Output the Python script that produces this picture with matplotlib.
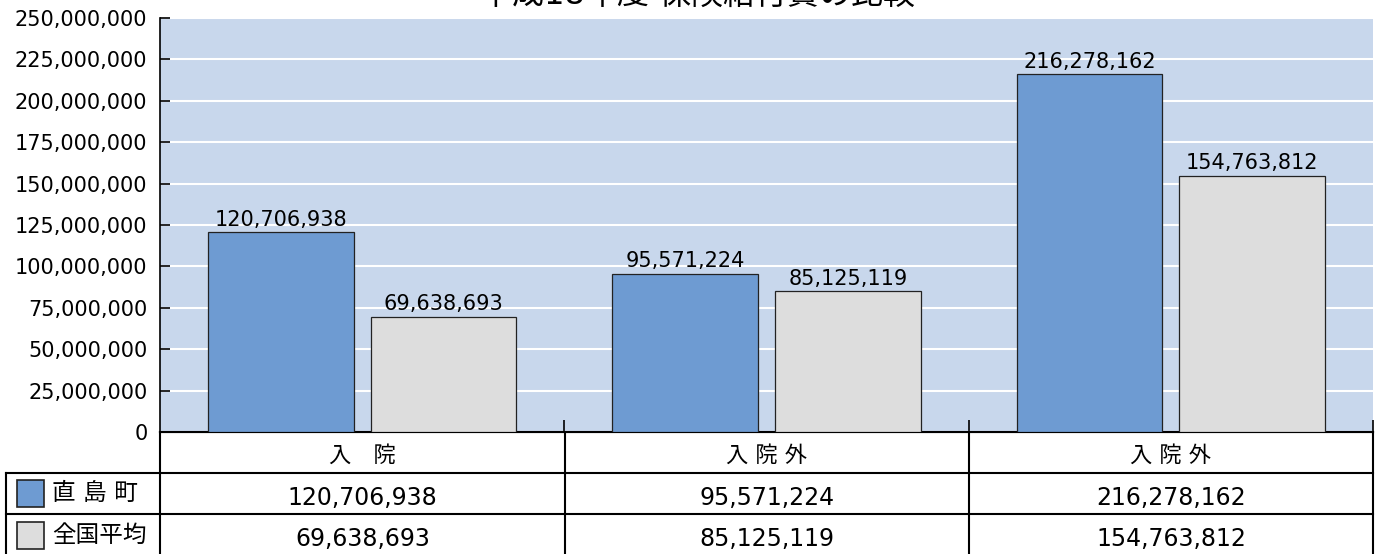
import matplotlib.pyplot as plt
import numpy as np

plt.rcParams['font.family'] = ['DejaVu Sans', 'Noto Sans CJK JP']

# data
categories = ['入\u3000院', '入 院 外', '入 院 外']
series_names = ['直 島 町', '全国平均']
naoshima = [120706938, 95571224, 216278162]
national = [69638693, 85125119, 154763812]
yticks = np.arange(0, 250000001, 25000000)

title = '平成18年度 保険給付費の比較'
blue = '#6E9BD2'
gray = '#DDDDDD'
bg = '#C8D7EC'

W, H = 1378, 554
fig = plt.figure(figsize=(W / 100, H / 100), dpi=100)

# pixel helpers (top-left origin)
def fx(px):
    return px / W

def fy(py):
    return 1 - py / H

# main bar axes
ax = fig.add_axes([fx(160), fy(432), fx(1373) - fx(160), fy(18) - fy(432)])
ax.set_facecolor(bg)
x = np.arange(len(categories))
w = 0.36
ax.bar(x - 0.201, naoshima, w, color=blue, edgecolor='#222222', linewidth=0.9, zorder=3)
ax.bar(x + 0.201, national, w, color=gray, edgecolor='#222222', linewidth=0.9, zorder=3)

for xi, v in zip(x - 0.201, naoshima):
    ax.annotate(f'{v:,}', (xi, v), xytext=(0, 4.5), textcoords='offset points',
                ha='center', va='baseline', fontsize=15, zorder=4)
for xi, v in zip(x + 0.201, national):
    ax.annotate(f'{v:,}', (xi, v), xytext=(0, 4.5), textcoords='offset points',
                ha='center', va='baseline', fontsize=15, zorder=4)

ax.set_xlim(-0.5, len(categories) - 0.5)
ax.set_ylim(0, 250000000)
ax.set_yticks(yticks)
ax.set_yticklabels([f'{t:,}' for t in yticks], fontsize=15)
ax.tick_params(axis='y', direction='in', length=7.5, width=1.2, pad=9)
ax.set_xticks(np.arange(len(categories)) + 0.5)
ax.set_xticklabels([])
ax.tick_params(axis='x', direction='in', length=8.5, width=1.2)
ax.grid(axis='y', color='white', linewidth=1.5, zorder=1)
ax.set_axisbelow(True)
for s in ['top', 'right']:
    ax.spines[s].set_visible(False)
ax.spines['left'].set_linewidth(1.2)
ax.spines['bottom'].set_linewidth(1.5)

# title, clipped at the top edge like the original
fig.text(0.506, fy(4), title, ha='center', va='baseline', fontsize=23)

# data table below the chart
tab = fig.add_axes([0, 0, 1, 1], zorder=-1)
tab.set_xlim(0, W)
tab.set_ylim(H, 0)
tab.axis('off')
lw = 1.5
col_edges = [160, 565, 969, 1373]
rows = [432, 473, 514, 556]
tab.plot([160, 1373], [rows[0], rows[0]], color='black', lw=lw)
for r in rows[1:]:
    tab.plot([6, 1373], [r, r], color='black', lw=lw)
for c in col_edges:
    tab.plot([c, c], [rows[0], H], color='black', lw=lw)
tab.plot([6, 6], [rows[1], H], color='black', lw=lw)

centers = [(a + b) / 2 for a, b in zip(col_edges[:-1], col_edges[1:])]
for cx, cat in zip(centers, categories):
    tab.text(cx, 455, cat, ha='center', va='center', fontsize=16)
for cx, v in zip(centers, naoshima):
    tab.text(cx, 498, f'{v:,}', ha='center', va='center', fontsize=17)
for cx, v in zip(centers, national):
    tab.text(cx, 539, f'{v:,}', ha='center', va='center', fontsize=17)

# legend keys in the table
for (ytop, color, name) in zip([480, 522], [blue, gray], series_names):
    tab.add_patch(plt.Rectangle((17, ytop), 27, 27, facecolor=color,
                                edgecolor='#222222', lw=1.2))
    tab.text(52, ytop + 13, name, ha='left', va='center', fontsize=17)

fig.savefig('out.png', dpi=100)
